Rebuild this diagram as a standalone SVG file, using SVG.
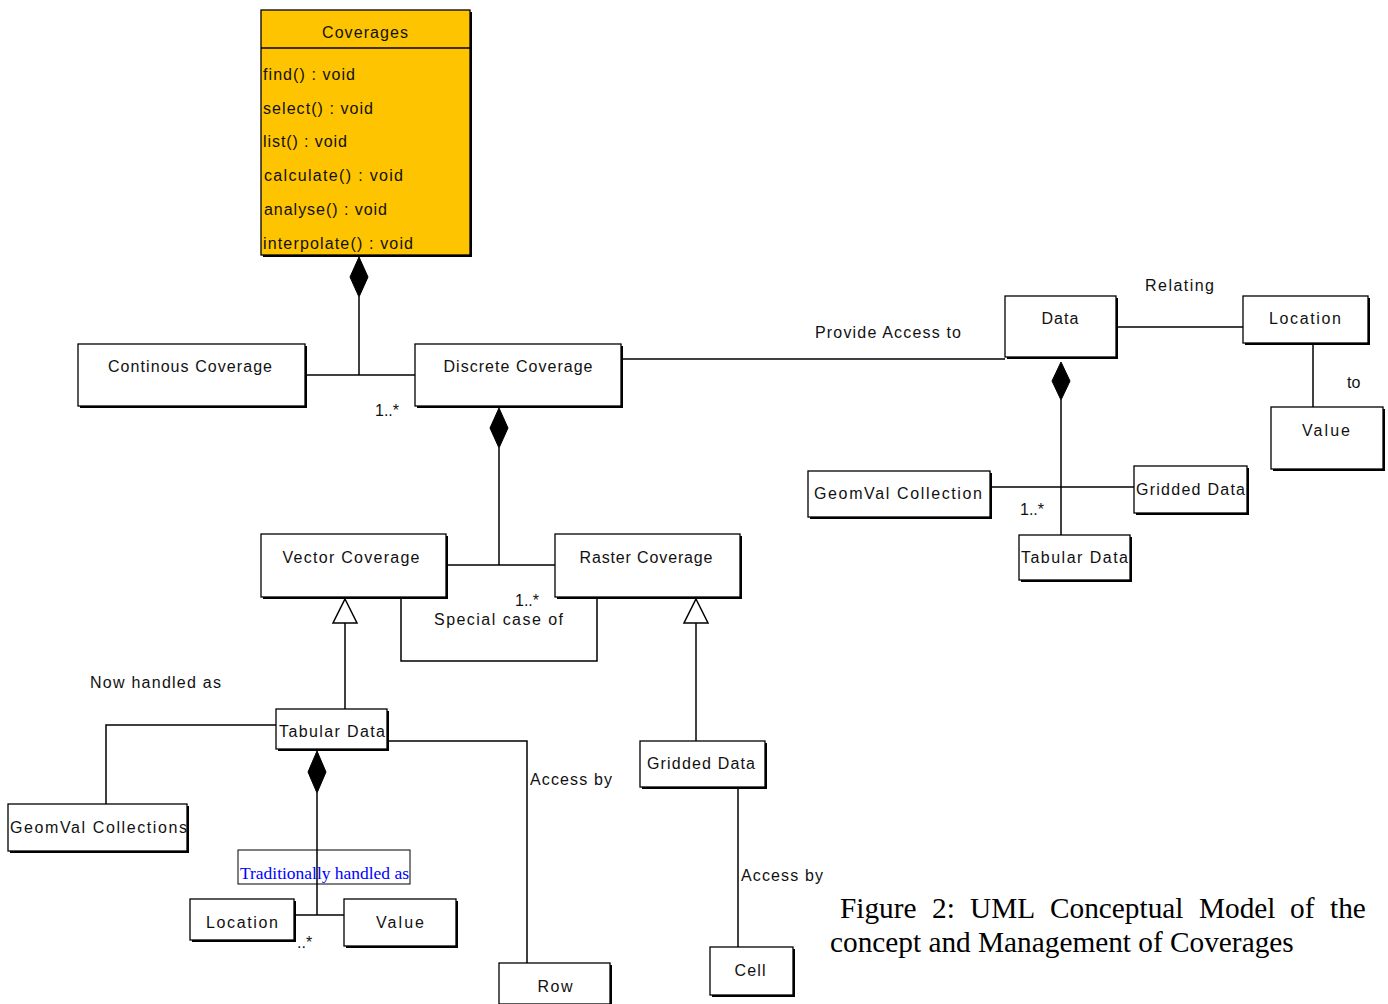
<svg xmlns="http://www.w3.org/2000/svg" width="1388" height="1004" viewBox="0 0 1388 1004">
<style>
.sh{fill:#000}
.bx{fill:#fff;stroke:#000;stroke-width:1.3}
.yb{fill:#ffc400;stroke:#000;stroke-width:1.3}
.t{font-family:"Liberation Sans",Arial,sans-serif;font-size:16px;fill:#111}
.c{text-anchor:middle}
.ln{fill:none;stroke:#000;stroke-width:1.5}
.dia{fill:#000;stroke:#000;stroke-width:1}
.tri{fill:#fff;stroke:#000;stroke-width:1.5}
.cap{font-family:"Liberation Serif","Times New Roman",serif;font-size:29.3px;fill:#000}
.trad{font-family:"Liberation Serif","Times New Roman",serif;font-size:17px;fill:#0000ff}
</style>

<g id="connectors">
  <line class="ln" x1="359" y1="297" x2="359" y2="375"/>
  <line class="ln" x1="305" y1="375" x2="415" y2="375"/>
  <polygon class="dia" points="359,257 368,277 359,297 350,277"/>
  <line class="ln" x1="499" y1="448" x2="499" y2="565"/>
  <line class="ln" x1="446" y1="565" x2="555" y2="565"/>
  <polygon class="dia" points="499,408 508,428 499,448 490,428"/>
  <polyline class="ln" points="401,597 401,661 597,661 597,597"/>
  <line class="ln" x1="345" y1="623" x2="345" y2="709"/>
  <polygon class="tri" points="345,599 357,623 333,623"/>
  <line class="ln" x1="696" y1="623" x2="696" y2="741"/>
  <polygon class="tri" points="696,599 708,623 684,623"/>
  <polyline class="ln" points="276,725 106,725 106,804"/>
  <polyline class="ln" points="387,741 527,741 527,963"/>
  <line class="ln" x1="317" y1="793" x2="317" y2="915"/>
  <line class="ln" x1="294" y1="915" x2="344" y2="915"/>
  <polygon class="dia" points="317,751 326,772 317,793 308,772"/>
  <line class="ln" x1="738" y1="787" x2="738" y2="947"/>
  <line class="ln" x1="621" y1="359" x2="1005" y2="359"/>
  <line class="ln" x1="1116" y1="327" x2="1243" y2="327"/>
  <line class="ln" x1="1313" y1="343" x2="1313" y2="407"/>
  <line class="ln" x1="1061" y1="400" x2="1061" y2="535"/>
  <polygon class="dia" points="1061,362 1070,381 1061,400 1052,381"/>
  <line class="ln" x1="990" y1="487" x2="1134" y2="487"/>
  <text class="t" x="375" y="416">1..*</text>
  <text class="t" x="515" y="606">1..*</text>
  <text class="t" x="434" y="625" textLength="129">Special case of</text>
  <text class="t" x="90" y="688" textLength="131">Now handled as</text>
  <text class="t" x="530" y="785" textLength="82">Access by</text>
  <text class="t" x="741" y="881" textLength="82">Access by</text>
  <text class="t" x="297" y="948">..*</text>
  <text class="t" x="815" y="338" textLength="146">Provide Access to</text>
  <text class="t" x="1145" y="291" textLength="69">Relating</text>
  <text class="t" x="1347" y="388">to</text>
  <text class="t" x="1020" y="515">1..*</text>
</g>

<g id="coverages">
  <rect class="sh" x="263" y="12" width="209" height="245"/>
  <rect class="yb" x="261" y="10" width="209" height="245"/>
  <line class="ln" x1="261" y1="48" x2="470" y2="48"/>
  <text class="t c" x="365" y="38" textLength="86">Coverages</text>
  <text class="t" x="263" y="80" textLength="92">find() : void</text>
  <text class="t" x="263" y="114" textLength="110">select() : void</text>
  <text class="t" x="263" y="147" textLength="84">list() : void</text>
  <text class="t" x="264" y="181" textLength="139">calculate() : void</text>
  <text class="t" x="264" y="215" textLength="123">analyse() : void</text>
  <text class="t" x="263" y="249" textLength="150">interpolate() : void</text>
</g>

<g id="continous-coverage">
  <rect class="sh" x="80" y="346" width="227" height="62"/>
  <rect class="bx" x="78" y="344" width="227" height="62"/>
  <text class="t c" x="190" y="372" textLength="164">Continous Coverage</text>
</g>

<g id="discrete-coverage">
  <rect class="sh" x="417" y="346" width="206" height="62"/>
  <rect class="bx" x="415" y="344" width="206" height="62"/>
  <text class="t c" x="518" y="372" textLength="149">Discrete Coverage</text>
</g>

<g id="vector-coverage">
  <rect class="sh" x="263" y="536" width="185" height="63"/>
  <rect class="bx" x="261" y="534" width="185" height="63"/>
  <text class="t c" x="351" y="563" textLength="137">Vector Coverage</text>
</g>

<g id="raster-coverage">
  <rect class="sh" x="557" y="536" width="185" height="63"/>
  <rect class="bx" x="555" y="534" width="185" height="63"/>
  <text class="t c" x="646" y="563" textLength="133">Raster Coverage</text>
</g>

<g id="tabular-data-lower">
  <rect class="sh" x="278" y="711" width="111" height="40"/>
  <rect class="bx" x="276" y="709" width="111" height="40"/>
  <text class="t" x="279" y="737" textLength="106">Tabular Data</text>
</g>

<g id="geomval-collections">
  <rect class="sh" x="10" y="806" width="179" height="47"/>
  <rect class="bx" x="8" y="804" width="179" height="47"/>
  <text class="t" x="10" y="833" textLength="177">GeomVal Collections</text>
</g>

<g id="traditionally-handled">
  <rect x="238" y="850" width="172" height="34" fill="none" stroke="#000" stroke-width="1"/>
  <text class="trad" x="240" y="879" textLength="169" lengthAdjust="spacingAndGlyphs">Traditionally handled as</text>
</g>

<g id="location-lower">
  <rect class="sh" x="192" y="901" width="104" height="41"/>
  <rect class="bx" x="190" y="899" width="104" height="41"/>
  <text class="t c" x="242" y="928" textLength="72">Location</text>
</g>

<g id="value-lower">
  <rect class="sh" x="346" y="901" width="112" height="47"/>
  <rect class="bx" x="344" y="899" width="112" height="47"/>
  <text class="t c" x="400" y="928" textLength="48">Value</text>
</g>

<g id="row">
  <rect class="sh" x="501" y="965" width="111" height="41"/>
  <rect class="bx" x="499" y="963" width="111" height="41"/>
  <text class="t c" x="555" y="992" textLength="35">Row</text>
</g>

<g id="gridded-data-lower">
  <rect class="sh" x="642" y="743" width="125" height="46"/>
  <rect class="bx" x="640" y="741" width="125" height="46"/>
  <text class="t c" x="701" y="769" textLength="108">Gridded Data</text>
</g>

<g id="cell">
  <rect class="sh" x="712" y="949" width="83" height="48"/>
  <rect class="bx" x="710" y="947" width="83" height="48"/>
  <text class="t c" x="750" y="976" textLength="31">Cell</text>
</g>

<g id="data">
  <rect class="sh" x="1007" y="298" width="111" height="61"/>
  <rect class="bx" x="1005" y="296" width="111" height="61"/>
  <text class="t c" x="1060" y="324" textLength="37">Data</text>
</g>

<g id="location-right">
  <rect class="sh" x="1245" y="298" width="125" height="47"/>
  <rect class="bx" x="1243" y="296" width="125" height="47"/>
  <text class="t c" x="1305" y="324" textLength="72">Location</text>
</g>

<g id="value-right">
  <rect class="sh" x="1273" y="409" width="112" height="62"/>
  <rect class="bx" x="1271" y="407" width="112" height="62"/>
  <text class="t c" x="1326" y="436" textLength="48">Value</text>
</g>

<g id="geomval-collection">
  <rect class="sh" x="810" y="473" width="182" height="46"/>
  <rect class="bx" x="808" y="471" width="182" height="46"/>
  <text class="t" x="814" y="499" textLength="168">GeomVal Collection</text>
</g>

<g id="gridded-data-right">
  <rect class="sh" x="1136" y="468" width="113" height="47"/>
  <rect class="bx" x="1134" y="466" width="113" height="47"/>
  <text class="t" x="1136" y="495" textLength="109">Gridded Data</text>
</g>

<g id="tabular-data-right">
  <rect class="sh" x="1021" y="537" width="111" height="45"/>
  <rect class="bx" x="1019" y="535" width="111" height="45"/>
  <text class="t" x="1021" y="563" textLength="107">Tabular Data</text>
</g>

<g id="caption">
  <text class="cap" y="918"><tspan x="840">Figure</tspan><tspan x="932">2:</tspan><tspan x="970">UML</tspan><tspan x="1050">Conceptual</tspan><tspan x="1199">Model</tspan><tspan x="1290">of</tspan><tspan x="1330">the</tspan></text>
  <text class="cap" x="830" y="952">concept and Management of Coverages</text>
</g>
</svg>
